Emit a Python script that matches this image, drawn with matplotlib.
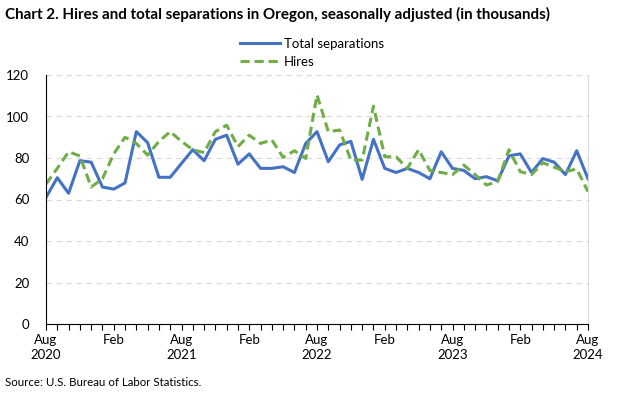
import matplotlib
matplotlib.use("Agg")
import matplotlib.pyplot as plt
import numpy as np

plt.rcParams['font.family'] = ['Lato', 'DejaVu Sans']

# monthly, Aug 2020 .. Aug 2024
months = ['Aug', 'Sep', 'Oct', 'Nov', 'Dec', 'Jan', 'Feb', 'Mar', 'Apr', 'May', 'Jun', 'Jul']
separations = [61, 70.5, 63, 78.7, 78, 66, 65, 68, 92.7, 87.4, 70.7, 70.7,
               77.4, 84, 78.7, 89, 91, 77, 82, 75, 75, 75.8, 73, 87,
               92.7, 78.2, 86.3, 88, 69.7, 89, 75, 73, 75, 73, 70, 83,
               75, 74, 70, 71, 69, 81, 82, 73, 79.7, 78, 72, 83.5,
               70]
hires = [67.5, 75, 83, 81, 66, 70, 82, 90, 87, 81.4, 88, 92.7,
         88, 84, 82.6, 92.7, 95.8, 85.5, 91, 87, 88.7, 80.3, 83.5, 79.8,
         110.4, 92.7, 93.5, 79, 79, 105, 80.6, 80.6, 75, 84, 74, 73,
         72, 76.6, 72, 67, 68.6, 84, 73.4, 72, 77.7, 75.6, 73.4, 74.7,
         63.8]
tick_labels = ['Aug\n2020', 'Feb', 'Aug\n2021', 'Feb', 'Aug\n2022', 'Feb', 'Aug\n2023', 'Feb', 'Aug\n2024']

x = np.arange(len(separations))

fig = plt.figure(figsize=(6.24, 3.94), dpi=100)
ax = fig.add_axes([46/624, 1-324/394, 542/624, 249/394])

ax.plot(x, separations, color='#4472C4', lw=2.2, label='Total separations')
ax.plot(x, hires, color='#70AD47', lw=2.2, ls=(0, (3, 1.6)), label='Hires')

ax.set_xlim(0, len(x)-1)
ax.set_ylim(0, 120)
ax.set_yticks(range(0, 121, 20))
ax.set_xticks(range(0, len(x), 6))
ax.set_xticklabels(tick_labels, linespacing=1.35)
ax.set_xticks(x, minor=True)
ax.tick_params(axis='x', which='both', direction='out', length=4, width=0.8, labelsize=9.5, pad=3, color='black')
ax.tick_params(axis='y', length=0, labelsize=9.5, pad=12)
ax.grid(axis='y', color='#D9D9D9', ls=(0, (5, 4)), lw=0.8)

ax.spines['top'].set_visible(False)
ax.spines['right'].set_color('#D9D9D9')
ax.spines['left'].set_color('black')
ax.spines['bottom'].set_color('black')

fig.legend(loc='center', bbox_to_anchor=(0.5, 1-53/394), ncol=1, frameon=False,
           fontsize=9.5, handlelength=3.0, labelspacing=0.45, handletextpad=0.3)

fig.text(5/624, 1-14/394, 'Chart 2. Hires and total separations in Oregon, seasonally adjusted (in thousands)',
         fontsize=10.9, fontweight='bold', va='center', ha='left')
fig.text(5/624, 1-383/394, 'Source: U.S. Bureau of Labor Statistics.', fontsize=8.3, va='center', ha='left')

fig.savefig('out.png', dpi=100)
